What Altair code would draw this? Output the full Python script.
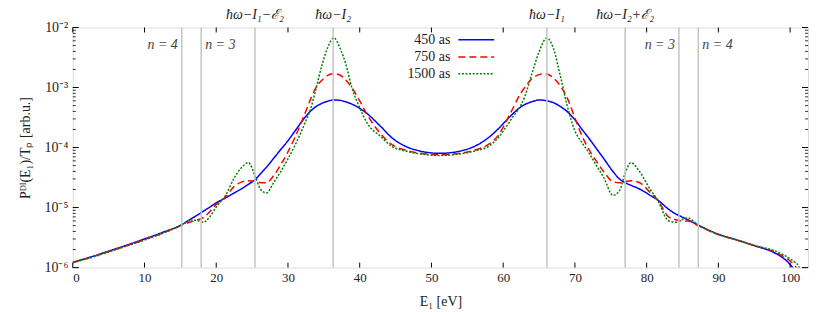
import math
import altair as alt
import pandas as pd

# ---------------- data ----------------
E1 = [0, 2.5, 5, 7.5, 10, 12.5, 15.2, 16.5, 17.3, 18.2, 19, 20, 21.3, 22.5, 23.5, 24.5,
      25.4, 26.2, 27, 28, 29, 30, 31, 32.2, 33.2, 33.8, 34.8, 35.5, 36.4, 37.3, 38, 38.9,
      40, 41, 43, 44.5, 46.3, 48.5, 51.2, 53.9, 56.1, 57.9, 59.4, 60.4, 61.4, 62.1, 63,
      64, 65, 65.8, 66.1, 67, 68, 69, 70, 71, 72, 73, 74, 75.3, 76.2, 77, 77.8, 79, 80.5,
      81.5, 83, 84, 84.8, 85.7, 87.2, 90, 92.5, 95, 98, 99, 100, 100.6, 101.2, 101.8]

P_450 = [1.23e-6, 1.50e-6, 1.88e-6, 2.36e-6, 3.0e-6, 3.85e-6, 5.2e-6, 6.5e-6, 7.4e-6, 8.7e-6,
         1.0e-5, 1.2e-5, 1.45e-5, 1.75e-5, 2.05e-5, 2.45e-5, 2.9e-5, 3.7e-5, 4.7e-5, 6.6e-5,
         9.3e-5, 1.3e-4, 1.9e-4, 3.0e-4, 4.1e-4, 4.7e-4, 5.5e-4, 5.9e-4, 6.2e-4, 6.1e-4,
         5.8e-4, 5.3e-4, 4.5e-4, 3.7e-4, 2.2e-4, 1.45e-4, 1.06e-4, 8.7e-5, 8.0e-5, 8.7e-5,
         1.06e-4, 1.45e-4, 2.1e-4, 2.8e-4, 3.7e-4, 4.4e-4, 5.2e-4, 5.8e-4, 6.2e-4, 6.1e-4,
         6.0e-4, 5.6e-4, 4.8e-4, 3.9e-4, 2.9e-4, 2.0e-4, 1.4e-4, 9.6e-5, 6.6e-5, 4.0e-5,
         3.0e-5, 2.6e-5, 2.35e-5, 2.04e-5, 1.6e-5, 1.35e-5, 9.5e-6, 7.9e-6, 7.1e-6, 6.3e-6,
         5.1e-6, 3.6e-6, 2.9e-6, 2.33e-6, 1.72e-6, 1.45e-6, 1.13e-6, 9.0e-7, 6.5e-7, 4.0e-7]

P_750 = [1.22e-6, 1.48e-6, 1.85e-6, 2.31e-6, 2.93e-6, 3.75e-6, 5.1e-6, 5.8e-6, 6.2e-6, 6.8e-6,
         8.3e-6, 1.13e-5, 1.5e-5, 2.25e-5, 2.65e-5, 2.8e-5, 2.75e-5, 2.6e-5, 2.6e-5, 3.4e-5,
         5.2e-5, 8.5e-5, 1.5e-4, 3.3e-4, 6.6e-4, 9.5e-4, 1.35e-3, 1.58e-3, 1.7e-3, 1.6e-3,
         1.35e-3, 1.0e-3, 6.0e-4, 3.6e-4, 1.65e-4, 1.12e-4, 9.1e-5, 8.0e-5, 7.6e-5, 8.0e-5,
         9.1e-5, 1.12e-4, 1.65e-4, 2.7e-4, 4.6e-4, 6.8e-4, 1.0e-3, 1.4e-3, 1.64e-3, 1.7e-3,
         1.68e-3, 1.45e-3, 1.05e-3, 6.4e-4, 3.1e-4, 1.55e-4, 9.1e-5, 5.9e-5, 4.0e-5, 2.7e-5,
         2.6e-5, 2.7e-5, 2.8e-5, 2.6e-5, 1.78e-5, 1.35e-5, 7.1e-6, 6.3e-6, 6.0e-6, 6.0e-6,
         5.0e-6, 3.55e-6, 2.9e-6, 2.33e-6, 1.8e-6, 1.55e-6, 1.29e-6, 1.1e-6, 8.5e-7, 5.0e-7]

P_1500 = [1.21e-6, 1.46e-6, 1.82e-6, 2.28e-6, 2.88e-6, 3.7e-6, 5.1e-6, 6.2e-6, 6.1e-6, 5.7e-6,
          6.8e-6, 1.02e-5, 1.6e-5, 3.1e-5, 4.6e-5, 5.6e-5, 3.4e-5, 2.0e-5, 1.75e-5, 2.6e-5,
          4.0e-5, 6.5e-5, 1.1e-4, 2.3e-4, 4.6e-4, 8.5e-4, 2.5e-3, 4.5e-3, 6.7e-3, 4.4e-3,
          2.6e-3, 1.0e-3, 4.6e-4, 2.6e-4, 1.5e-4, 1.04e-4, 8.8e-5, 7.8e-5, 7.4e-5, 7.8e-5,
          8.8e-5, 1.04e-4, 1.5e-4, 2.2e-4, 3.3e-4, 4.3e-4, 7.0e-4, 1.7e-3, 3.9e-3, 6.3e-3,
          6.7e-3, 4.5e-3, 1.5e-3, 4.6e-4, 1.9e-4, 1.2e-4, 8.0e-5, 5.0e-5, 3.2e-5, 1.6e-5,
          1.9e-5, 3.7e-5, 5.6e-5, 4.0e-5, 2.0e-5, 1.35e-5, 6.1e-6, 5.7e-6, 6.2e-6, 6.7e-6,
          5.1e-6, 3.55e-6, 2.9e-6, 2.33e-6, 1.88e-6, 1.65e-6, 1.4e-6, 1.25e-6, 1.05e-6, 6.0e-7]

series_names = ["450 as", "750 as", "1500 as"]
series_colors = ["#0000ff", "#ff0000", "#008000"]
series_dashes = [[1, 0], [7, 4], [2, 1.6]]

level_E = [15.2, 17.9, 25.4, 36.3, 66.1, 77.0, 84.5, 87.2]
top_label_E = [25.4, 36.3, 66.1, 77.0]
top_labels = ["ħω−I₁−ℰ₂", "ħω−I₂", "ħω−I₁", "ħω−I₂+ℰ₂"]
n_right_E = [15.2, 84.5]          # labels sitting left of their line
n_right_labels = ["n = 4", "n = 3"]
n_left_E = [17.9, 87.2]           # labels sitting right of their line
n_left_labels = ["n = 3", "n = 4"]

x_ticks = [0, 10, 20, 30, 40, 50, 60, 70, 80, 90, 100]
y_ticks = [1e-6, 1e-5, 1e-4, 1e-3, 1e-2]
y_tick_labels = ["10⁻⁶", "10⁻⁵", "10⁻⁴", "10⁻³", "10⁻²"]
y_minor = [m * d for d in [1e-6, 1e-5, 1e-4, 1e-3] for m in [2, 3, 4, 5, 6, 7, 8, 9]]

# ---------------- layout / style ----------------
W, H = 738, 241
FONT = "Liberation Serif"

curves = pd.DataFrame({
    "E": E1 * 3,
    "P": P_450 + P_750 + P_1500,
    "series": [series_names[0]] * len(E1) + [series_names[1]] * len(E1) + [series_names[2]] * len(E1),
})

x_scale = alt.Scale(domain=[0, 102.5], nice=False, zero=False)
y_scale = alt.Scale(type="log", domain=[1e-6, 1e-2], nice=False)
color_scale = alt.Scale(domain=series_names, range=series_colors)
dash_scale = alt.Scale(domain=series_names, range=series_dashes)

label_expr = ""
for v, lab in zip(y_ticks, y_tick_labels):
    label_expr += f"round(log(datum.value)/LN10) == {round(math.log10(v))} ? '{lab}' : "
label_expr += "''"

x_axis = alt.Axis(values=x_ticks, format="d", ticks=False, domain=False, grid=False,
                  labelFont=FONT, labelFontSize=13, labelColor="#222", labelPadding=4,
                  title="E₁  [eV]", titleFont=FONT, titleFontSize=14, titleFontWeight="normal",
                  titleColor="#222", titlePadding=10)
y_axis = alt.Axis(values=y_ticks, labelExpr=label_expr, ticks=False, domain=False, grid=False,
                  labelFont=FONT, labelFontSize=14, labelColor="#222", labelPadding=5,
                  title="Pᴰᴵ(E₁)/Tₚ [arb.u.]", titleFont=FONT, titleFontSize=14,
                  titleFontWeight="normal", titleColor="#222", titlePadding=12)


def X(field="E:Q"):
    return alt.X(field, scale=x_scale, axis=x_axis)


def Y(field="P:Q"):
    return alt.Y(field, scale=y_scale, axis=y_axis)


levels = alt.Chart(pd.DataFrame({"E": level_E})).mark_rule(
    color="#c4c4c4", strokeWidth=1.5).encode(x=X())

lines = alt.Chart(curves).mark_line(strokeWidth=1.5, clip=True, interpolate="monotone").encode(
    x=X(), y=Y(),
    color=alt.Color("series:N", scale=color_scale, legend=None),
    strokeDash=alt.StrokeDash("series:N", scale=dash_scale, legend=None),
)

top_text = alt.Chart(pd.DataFrame({"E": top_label_E, "t": top_labels})).mark_text(
    font=FONT, fontSize=14, fontStyle="italic", color="#222", baseline="alphabetic").encode(
    x=X(), y=alt.value(-9), text="t:N")

n_text_r = alt.Chart(pd.DataFrame({"E": n_right_E, "t": n_right_labels})).mark_text(
    font=FONT, fontSize=14, fontStyle="italic", color="#444", align="right", dx=-4,
    baseline="middle").encode(x=X(), y=alt.value(18), text="t:N")
n_text_l = alt.Chart(pd.DataFrame({"E": n_left_E, "t": n_left_labels})).mark_text(
    font=FONT, fontSize=14, fontStyle="italic", color="#444", align="left", dx=4,
    baseline="middle").encode(x=X(), y=alt.value(18), text="t:N")

# inward ticks drawn through the scales
xt = pd.DataFrame({"E": x_ticks})
x_ticks_bottom = alt.Chart(xt).mark_rule(color="black", strokeWidth=1).encode(
    x=X(), y=alt.value(H), y2=alt.value(H - 5))
x_ticks_top = alt.Chart(xt).mark_rule(color="black", strokeWidth=1).encode(
    x=X(), y=alt.value(0), y2=alt.value(5))
yt = pd.DataFrame({"P": y_ticks})
ym = pd.DataFrame({"P": y_minor})
y_major_l = alt.Chart(yt).mark_rule(color="black", strokeWidth=1).encode(
    y=Y(), x=alt.value(0), x2=alt.value(6))
y_major_r = alt.Chart(yt).mark_rule(color="black", strokeWidth=1).encode(
    y=Y(), x=alt.value(W), x2=alt.value(W - 6))
y_minor_l = alt.Chart(ym).mark_rule(color="black", strokeWidth=0.8).encode(
    y=Y(), x=alt.value(0), x2=alt.value(3))
y_minor_r = alt.Chart(ym).mark_rule(color="black", strokeWidth=0.8).encode(
    y=Y(), x=alt.value(W), x2=alt.value(W - 3))

# legend (labels left of the line samples, as in the reference)
legend_layers = []
for i, name in enumerate(series_names):
    ly = [12.3, 29.5, 46.5][i]
    legend_layers.append(alt.Chart(pd.DataFrame({"s": [name]})).mark_text(
        font=FONT, fontSize=14, color="#222", align="right", baseline="middle").encode(
        text="s:N", x=alt.value(379), y=alt.value(ly)))
    legend_layers.append(alt.Chart(pd.DataFrame({"s": [name]})).mark_rule(
        strokeWidth=1.5, color=series_colors[i], strokeDash=series_dashes[i]).encode(
        x=alt.value(387), x2=alt.value(423), y=alt.value(ly)))

chart = alt.layer(
    lines, levels, top_text, n_text_r, n_text_l,
    x_ticks_bottom, x_ticks_top, y_major_l, y_major_r, y_minor_l, y_minor_r,
    *legend_layers,
).properties(
    width=W, height=H,
    autosize=alt.AutoSizeParams(type="none"),
    padding={"left": 65, "top": 19, "right": 15, "bottom": 44},
).configure_view(
    stroke="black", strokeWidth=2
).configure(background="white")

chart.save("out.html", embed_options={"renderer": "svg", "actions": False})
